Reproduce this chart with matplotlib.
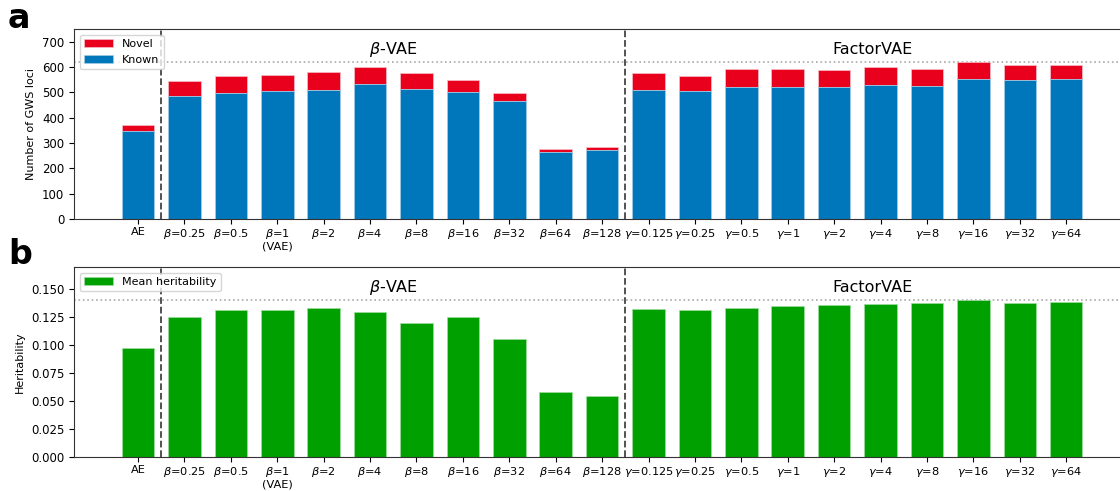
import numpy as np
import matplotlib
matplotlib.use("Agg")
import matplotlib.pyplot as plt

# categories
labels = ['AE',
          r'$\beta$=0.25', r'$\beta$=0.5', '$\\beta$=1\n(VAE)', r'$\beta$=2', r'$\beta$=4',
          r'$\beta$=8', r'$\beta$=16', r'$\beta$=32', r'$\beta$=64', r'$\beta$=128',
          r'$\gamma$=0.125', r'$\gamma$=0.25', r'$\gamma$=0.5', r'$\gamma$=1', r'$\gamma$=2',
          r'$\gamma$=4', r'$\gamma$=8', r'$\gamma$=16', r'$\gamma$=32', r'$\gamma$=64']

# GWS loci: known and total (known + novel)
known = [348, 487, 496, 504, 510, 534, 512, 501, 466, 266, 271,
         509, 507, 521, 522, 521, 529, 526, 553, 550, 553]
total = [370, 543, 564, 568, 581, 600, 575, 549, 497, 276, 285,
         575, 566, 592, 592, 588, 599, 591, 620, 607, 609]
novel = [t - k for t, k in zip(total, known)]

# mean heritability
herit = [0.0972, 0.1253, 0.1312, 0.1312, 0.1333, 0.1294, 0.1202, 0.1253, 0.1053, 0.0582, 0.0549,
         0.1327, 0.1312, 0.1333, 0.1348, 0.1357, 0.1369, 0.1375, 0.1402, 0.1375, 0.1387]

c_known = '#0077bb'
c_novel = '#e8001c'
c_green = '#00a000'

x = np.arange(len(labels))
xlim = (-1.38, 21.16)

fig = plt.figure(figsize=(11.2, 4.91), dpi=100)
ax1 = fig.add_axes([74 / 1120, 1 - 219 / 491, 1 - 74 / 1120, 190 / 491])
ax2 = fig.add_axes([74 / 1120, 1 - 457 / 491, 1 - 74 / 1120, 190 / 491])


def decorate(ax, ymax, line_y):
    ax.set_xlim(*xlim)
    ax.set_ylim(0, ymax)
    ax.set_xticks(x)
    ax.set_xticklabels(labels, fontsize=8.2, linespacing=1.0)
    ax.tick_params(axis='x', pad=2.5)
    ax.tick_params(axis='y', labelsize=8.5)
    ax.spines['right'].set_visible(False)
    for s in ['left', 'bottom', 'top']:
        ax.spines[s].set_color('#333333')
    ax.axvline(0.5, color='#444444', ls='--', lw=1.3)
    ax.axvline(10.5, color='#444444', ls='--', lw=1.3)
    ax.axhline(line_y, color='#aaaaaa', ls=':', lw=1.2, zorder=0)
    ax.text(5.5, ymax * 0.89, r'$\beta$-VAE', ha='center', va='center', fontsize=11.5)
    ax.text((10.5 + xlim[1]) / 2, ymax * 0.89, 'FactorVAE', ha='center', va='center', fontsize=11.5)


ax1.bar(x, novel, 0.7, bottom=known, color=c_novel, edgecolor='#f8c0c8', lw=0.5, label='Novel')
ax1.bar(x, known, 0.7, color=c_known, edgecolor='#a8cce6', lw=0.5, label='Known')
decorate(ax1, 750, max(total))
ax1.set_yticks(np.arange(0, 701, 100))
ax1.set_ylabel('Number of GWS loci', fontsize=8)
ax1.legend(loc='upper left', fontsize=8, handlelength=2.6)

ax2.bar(x, herit, 0.7, color=c_green, edgecolor='#a0dca0', lw=0.5, label='Mean heritability')
decorate(ax2, 0.17, max(herit))
ax2.set_yticks(np.arange(0, 0.151, 0.025))
ax2.set_yticklabels(['%.3f' % v for v in np.arange(0, 0.151, 0.025)])
ax2.set_ylabel('Heritability', fontsize=8)
ax2.legend(loc='upper left', fontsize=8, handlelength=2.6)

fig.text(8 / 1120, 1 - 19 / 491, 'a', fontsize=24, fontweight='bold', va='center', ha='left')
fig.text(8 / 1120, 1 - 254 / 491, 'b', fontsize=24, fontweight='bold', va='center', ha='left')

fig.savefig('out.png', dpi=100)
